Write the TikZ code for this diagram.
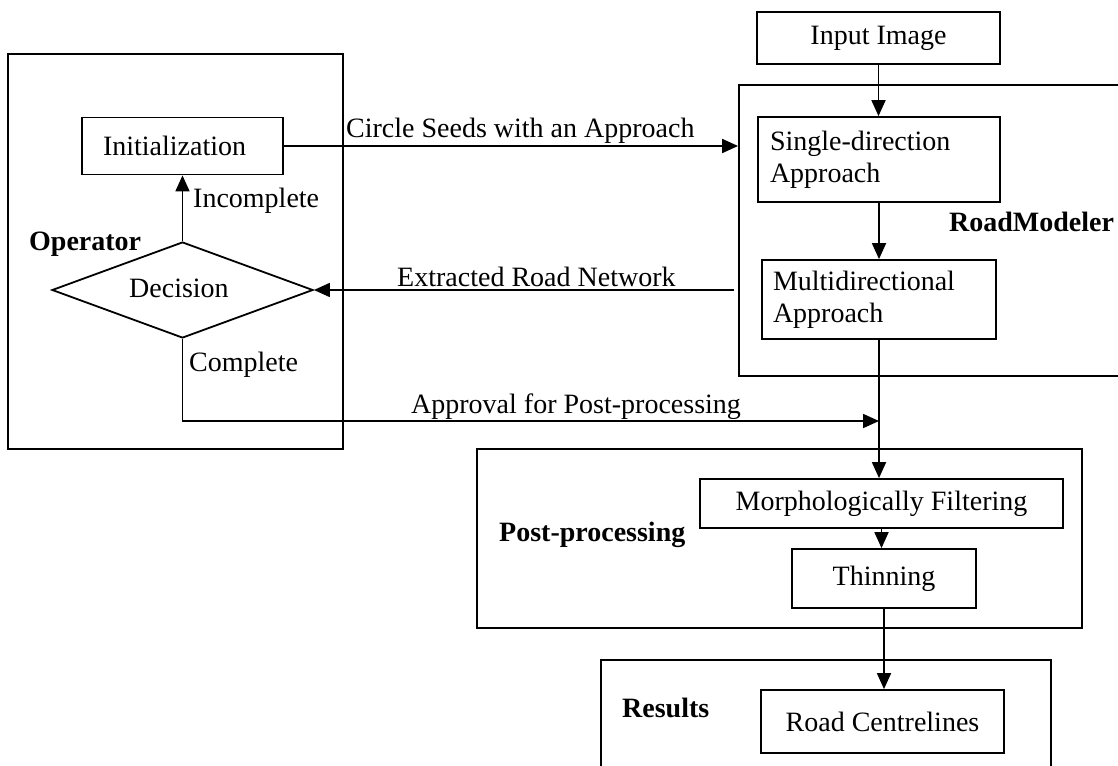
\documentclass[tikz,border=0pt]{standalone}
\usepackage{fontspec}
\setmainfont{Liberation Serif}
\usetikzlibrary{arrows.meta,shapes.geometric}
\begin{document}
\begin{tikzpicture}[x=1pt,y=-1pt,
  every node/.style={font=\fontsize{28}{32}\selectfont},
  box/.style={draw, line width=1.8pt, inner sep=0pt},
  group/.style={draw, line width=1.8pt, inner sep=0pt},
  lbl/.style={anchor=base west, inner sep=0pt},
  head/.style={anchor=base west, inner sep=0pt, font=\fontsize{28}{32}\selectfont\bfseries},
  link/.style={line width=1.8pt, -{Triangle[length=16pt,width=14pt]}}]
\useasboundingbox (0,0) rectangle (1118,765);

% group frames
\node[group, minimum width=335pt, minimum height=395pt] (op) at (175.5,251.5) {};
\node[group, minimum width=401pt, minimum height=291pt] (rm) at (939.5,230.5) {};
\node[group, minimum width=605pt, minimum height=179pt] (pp) at (779.5,538.5) {};
\node[group, minimum width=450pt, minimum height=130pt] (res) at (826,725) {};

% process boxes
\node[box, minimum width=201pt, minimum height=57pt, text width=159pt, inner xsep=21pt, align=left] (init) at (182.5,146) {Initialization};
\node[box, minimum width=243pt, minimum height=52pt] (inp) at (878.5,38) {Input Image};
\node[box, minimum width=242pt, minimum height=85pt, text width=218pt, inner xsep=12pt, align=left] (single) at (879,159.5) {Single-direction\\Approach};
\node[box, minimum width=234pt, minimum height=79pt, text width=212pt, inner xsep=11pt, align=left] (multi) at (879,299.5) {Multidirectional\\Approach};
\node[box, minimum width=363pt, minimum height=49pt] (morph) at (881.5,503.5) {Morphologically Filtering};
\node[box, minimum width=184pt, minimum height=59pt] (thin) at (884,578.5) {Thinning};
\node[box, minimum width=243pt, minimum height=63pt] (road) at (882.5,721.5) {Road Centrelines};
\node[draw, diamond, line width=1.8pt, minimum width=261pt, minimum height=96pt, inner sep=0pt] (dec) at (182.5,290) {};
\node[lbl] (dectext) at (129,297) {Decision};

% frame titles
\node[head] (optitle) at (29,250) {Operator};
\node[head] (rmtitle) at (949,231) {RoadModeler};
\node[head] (pptitle) at (499,541) {Post-processing};
\node[head] (restitle) at (622,717) {Results};

% connectors
\draw[link] (init.east) -- (init.east -| rm.west);
\draw[link] (inp.south) -- (inp.south |- single.north);
\draw[link] (single.south) -- (single.south |- multi.north);
\draw[link] ([xshift=-4pt]rm.west |- dec.east) -- (dec.east);
\draw[link] (dec.north) -- (init.south);
\coordinate (bend) at (182.5,421);
\draw[link] (dec.south) -- (bend) -- (bend -| multi.south);
\draw[link] (multi.south) -- (multi.south |- morph.north);
\draw[link] (morph.south) -- (morph.south |- thin.north);
\draw[link] (thin.south) -- (thin.south |- road.north);

% connector labels
\node[lbl] (seeds) at (346,137) {Circle Seeds with an Approach};
\node[lbl] (extracted) at (397,286) {Extracted Road Network};
\node[lbl] (approval) at (411,413) {Approval for Post-processing};
\node[lbl] (incomplete) at (193,207) {Incomplete};
\node[lbl] (complete) at (189,371) {Complete};
\end{tikzpicture}
\end{document}
